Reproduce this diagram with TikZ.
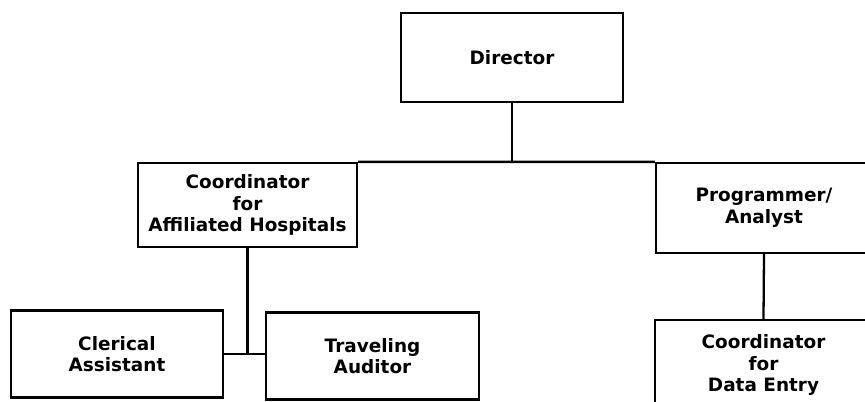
\documentclass[tikz,border=0pt]{standalone}
\usepackage{fontspec}
\setmainfont{DejaVu Sans}
\usetikzlibrary{positioning}
\tikzset{
  post/.style={
    rectangle, draw, line width=1.3pt, fill=white,
    minimum width=4.3cm, minimum height=1.75cm,
    align=center, inner sep=2pt,
    font=\fontsize{10.5}{12.3}\selectfont\bfseries
  },
  link/.style={line width=1.3pt},
}
\begin{document}
\begin{tikzpicture}[x=0.02cm, y=-0.02cm]

  \useasboundingbox (0,0) rectangle (865,402);

  %% ── Top ────────────────────────────────────────────────────────────────────

  \node[post, minimum width=4.44cm, minimum height=1.78cm] (director) at (512, 57.5) {Director};

  %% ── Second level ───────────────────────────────────────────────────────────

  \node[post, minimum width=4.38cm, minimum height=1.68cm] (coord) at (247.5, 205)
    {Coordinator\\for\\Affiliated Hospitals};
  \node[post, minimum width=4.32cm, minimum height=1.80cm] (prog) at (764, 208)
    {Programmer/\\Analyst};

  \draw[link] (director.south) -- (director.south |- coord.north);
  \draw[link] (coord.north east) -- (prog.north west);

  %% ── Third level ────────────────────────────────────────────────────────────

  \node[post, minimum width=4.24cm, minimum height=1.74cm] (clerk) at (117, 354)
    {Clerical\\Assistant};
  \node[post, minimum width=4.26cm, minimum height=1.74cm] (audit) at (372.5, 356)
    {Traveling\\Auditor};
  \node[post, minimum width=4.34cm, minimum height=1.80cm] (entry) at (763.5, 365)
    {Coordinator\\for\\Data Entry};

  \draw[link] (coord.south) -- (coord.south |- clerk.east);
  \draw[link] (clerk.east) -- (audit.west |- clerk.east);
  \draw[link] (prog.south) -- (entry.north);

\end{tikzpicture}
\end{document}
